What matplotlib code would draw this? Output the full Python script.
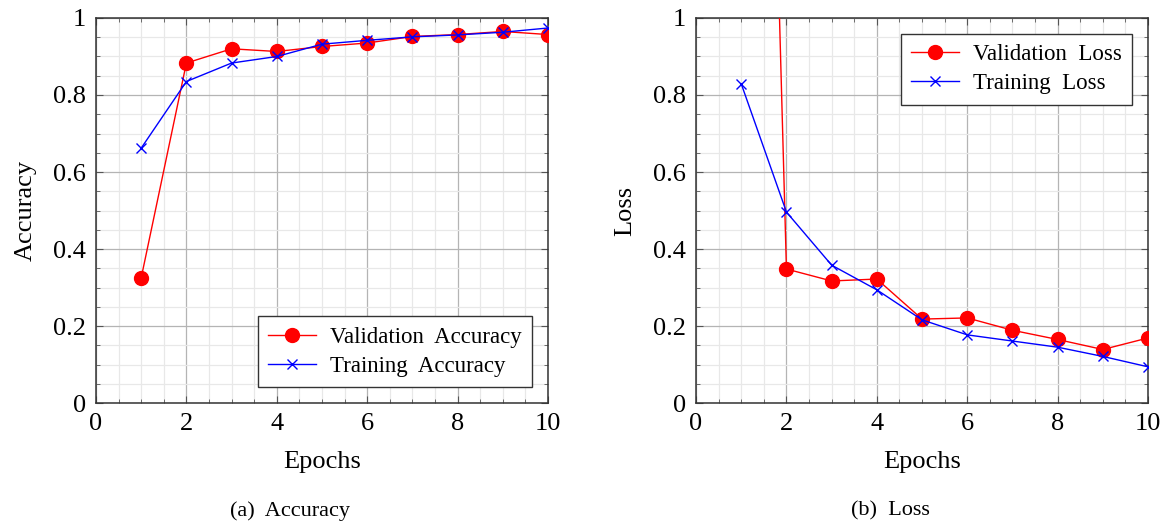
import numpy as np
import matplotlib
matplotlib.use('Agg')
import matplotlib.pyplot as plt
from matplotlib.ticker import MultipleLocator

plt.rcParams['font.family'] = ['Liberation Serif', 'DejaVu Serif']

# Dados
epocas = [1, 2, 3, 4, 5, 6, 7, 8, 9, 10]
val_acc = [0.325, 0.883, 0.920, 0.913, 0.926, 0.935, 0.952, 0.957, 0.965, 0.957]
train_acc = [0.662, 0.835, 0.883, 0.900, 0.932, 0.942, 0.951, 0.956, 0.963, 0.974]
val_loss = [4.6, 0.348, 0.317, 0.322, 0.218, 0.221, 0.189, 0.165, 0.139, 0.169]
train_loss = [0.829, 0.496, 0.358, 0.294, 0.216, 0.177, 0.161, 0.145, 0.121, 0.094]

fig = plt.figure(figsize=(11.62, 5.23), dpi=100)
ax1 = fig.add_axes([0.0826, 0.2294, 0.389, 0.7362])
ax2 = fig.add_axes([0.599, 0.2294, 0.389, 0.7362])


def estilo(ax, ylabel):
    ax.set_xlim(0, 10)
    ax.set_ylim(0, 1)
    ax.xaxis.set_major_locator(MultipleLocator(2))
    ax.xaxis.set_minor_locator(MultipleLocator(0.5))
    ax.yaxis.set_major_locator(MultipleLocator(0.2))
    ax.yaxis.set_minor_locator(MultipleLocator(0.05))
    ax.set_yticks([0, 0.2, 0.4, 0.6, 0.8, 1.0])
    ax.set_yticklabels(['0', '0.2', '0.4', '0.6', '0.8', '1'])
    ax.grid(which='major', color='#b4b4b4', linewidth=0.9)
    ax.grid(which='minor', color='#e8e8e8', linewidth=0.9)
    ax.set_axisbelow(True)
    ax.tick_params(which='both', direction='in', top=True, right=True,
                   labelsize=19, color='#555555')
    ax.tick_params(which='major', length=5, pad=7)
    ax.tick_params(which='minor', length=3)
    for s in ax.spines.values():
        s.set_color('#333333')
        s.set_linewidth(1.1)
    ax.set_xlabel('Epochs', fontsize=19, labelpad=12)
    ax.set_ylabel(ylabel, fontsize=19, labelpad=12)


# Painel (a): acurácia
ax1.plot(epocas, val_acc, color='red', marker='o', markersize=10, linewidth=1.0,
         label='Validation  Accuracy', zorder=3)
ax1.plot(epocas, train_acc, color='blue', marker='x', markersize=7, linewidth=1.0,
         label='Training  Accuracy', zorder=4)
estilo(ax1, 'Accuracy')
leg1 = ax1.legend(loc='lower right', fontsize=16.5, fancybox=False, framealpha=1,
                  edgecolor='#333333', handlelength=2.1, borderaxespad=0.7,
                  borderpad=0.45, labelspacing=0.35, handletextpad=0.6)
leg1.get_frame().set_linewidth(1.0)

# Painel (b): perda
ax2.plot(epocas, val_loss, color='red', marker='o', markersize=10, linewidth=1.0,
         label='Validation  Loss', zorder=3)
ax2.plot(epocas, train_loss, color='blue', marker='x', markersize=7, linewidth=1.0,
         label='Training  Loss', zorder=4)
estilo(ax2, 'Loss')
leg2 = ax2.legend(loc='upper right', fontsize=16.5, fancybox=False, framealpha=1,
                  edgecolor='#333333', handlelength=2.1, borderaxespad=0.7,
                  borderpad=0.45, labelspacing=0.35, handletextpad=0.6)
leg2.get_frame().set_linewidth(1.0)

fig.text(0.25, 0.014, '(a)  Accuracy', ha='center', fontsize=16)
fig.text(0.766, 0.014, '(b)  Loss', ha='center', fontsize=16)

fig.savefig('out.png', dpi=100)
